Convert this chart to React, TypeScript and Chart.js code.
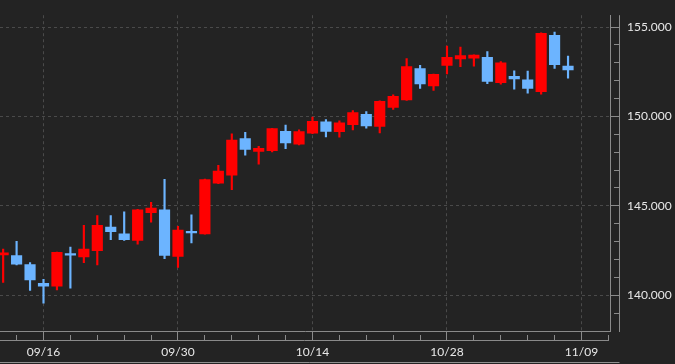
import React, { useEffect, useRef } from 'react';
import { Chart, registerables } from 'chart.js';

Chart.register(...registerables);

// ---- data ----
const dates = [
  '09/11', '09/12', '09/13', '09/16', '09/17', '09/18', '09/19', '09/20', '09/23', '09/24',
  '09/25', '09/26', '09/27', '09/30', '10/01', '10/02', '10/03', '10/04', '10/07', '10/08',
  '10/09', '10/10', '10/11', '10/14', '10/15', '10/16', '10/17', '10/18', '10/21', '10/22',
  '10/23', '10/24', '10/25', '10/28', '10/29', '10/30', '10/31', '11/01', '11/04', '11/05',
  '11/06', '11/07', '11/08',
];
const openValues = [
  142.26, 142.22, 141.71, 140.67, 140.50, 142.33, 142.14, 142.49, 143.81, 143.43,
  143.06, 144.62, 144.77, 142.17, 143.58, 143.43, 146.26, 146.71, 148.76, 148.04,
  148.08, 149.16, 148.45, 149.06, 149.70, 149.15, 149.54, 150.11, 149.44, 150.50,
  150.92, 152.67, 151.71, 152.85, 153.22, 153.26, 153.31, 151.89, 152.24, 152.05,
  151.39, 154.54, 152.81,
];
const highValues = [
  142.58, 143.02, 141.83, 140.89, 142.42, 142.69, 143.91, 144.45, 144.45, 144.66,
  144.80, 145.20, 146.48, 143.86, 144.49, 146.49, 147.26, 149.02, 149.11, 148.33,
  149.34, 149.52, 149.25, 149.96, 149.82, 149.75, 150.32, 150.27, 150.87, 151.21,
  153.24, 152.85, 152.37, 153.94, 153.88, 153.45, 153.62, 153.06, 152.55, 152.53,
  154.67, 154.71, 153.38,
];
const lowValues = [
  140.71, 141.69, 140.27, 139.55, 140.30, 140.39, 141.82, 141.69, 143.11, 143.06,
  142.85, 144.09, 142.05, 141.56, 142.92, 143.41, 146.24, 145.91, 147.83, 147.33,
  148.01, 148.19, 148.40, 149.04, 148.86, 148.84, 149.25, 149.34, 149.08, 150.39,
  150.90, 151.56, 151.46, 152.37, 152.78, 152.81, 151.83, 151.80, 151.53, 151.30,
  151.24, 152.69, 152.14,
];
const closeValues = [
  142.37, 141.74, 140.85, 140.51, 142.40, 142.24, 142.58, 143.91, 143.56, 143.11,
  144.77, 144.88, 142.22, 143.65, 143.49, 146.47, 146.94, 148.67, 148.15, 148.22,
  149.32, 148.52, 149.15, 149.73, 149.16, 149.64, 150.21, 149.47, 150.85, 151.12,
  152.78, 151.82, 152.35, 153.31, 153.40, 153.43, 151.96, 152.99, 152.10, 151.56,
  154.65, 152.90, 152.60,
];
const xTickLabels = ['09/16', '09/30', '10/14', '10/28', '11/09'];
const xTickIndices = [3, 13, 23, 33, 43];
const yTickLabels = ['140.000', '145.000', '150.000', '155.000'];
const yTickValues = [140, 145, 150, 155];

// ---- styles ----
const BG = '#232323';
const AXIS = '#8a8a8a';
const GRID = '#4a4a4a';
const TEXT = '#e8e8e8';
const UP = '#ff0000';
const DOWN = '#6cb4ff';
const TICK_LEN = 9;

const X_MIN = -0.234;
const X_MAX = 45.12;
const Y_MIN = 138;
const Y_MAX = 155.66;

const framePlugin = {
  id: 'frame',
  beforeDraw(chart: any) {
    const { ctx, width, height } = chart;
    ctx.save();
    ctx.fillStyle = BG;
    ctx.fillRect(0, 0, width, height);
    ctx.restore();
  },
  afterDraw(chart: any) {
    const { ctx, chartArea } = chart;
    const xs = chart.scales.x;
    ctx.save();
    ctx.strokeStyle = AXIS;
    ctx.lineWidth = 1;
    ctx.setLineDash([]);
    // lower x axis line
    const yLow = Math.round(chartArea.bottom + TICK_LEN) + 0.5;
    ctx.beginPath();
    ctx.moveTo(chartArea.left, yLow);
    ctx.lineTo(Math.round(xs.getPixelForValue(45)) + 1, yLow);
    ctx.stroke();
    // outer y axis line
    const xAx = Math.round(chartArea.right + TICK_LEN) + 0.5;
    ctx.beginPath();
    ctx.moveTo(xAx, chartArea.top);
    ctx.lineTo(xAx, Math.round(chartArea.bottom) + 1);
    ctx.stroke();
    // bottom frame line
    ctx.strokeStyle = '#8f8f8f';
    ctx.beginPath();
    ctx.moveTo(0, 362.5);
    ctx.lineTo(xAx, 362.5);
    ctx.stroke();
    ctx.restore();
  },
};

export default function App() {
  const ref = useRef<HTMLCanvasElement | null>(null);

  useEffect(() => {
    if (!ref.current) return;
    const colors = openValues.map((o, i) => (closeValues[i] >= o ? UP : DOWN));
    const xLabelMap: Record<number, string> = {};
    xTickIndices.forEach((v, i) => (xLabelMap[v] = xTickLabels[i]));
    const yLabelMap: Record<number, string> = {};
    yTickValues.forEach((v, i) => (yLabelMap[v] = yTickLabels[i]));
    const xTicks: number[] = [];
    for (let v = 1; v <= 45; v += 2) xTicks.push(v);
    const yTicks: number[] = [];
    for (let v = 139; v <= 155; v += 1) yTicks.push(v);
    const minorDash = [0, 3, 6, 20];

    const chart = new Chart(ref.current, {
      type: 'bar',
      data: {
        labels: dates,
        datasets: [
          {
            label: 'body',
            data: dates.map((_, i) => ({ x: i, y: [openValues[i], closeValues[i]] })) as any,
            backgroundColor: colors,
            barThickness: 10.5,
            grouped: false,
            borderWidth: 0,
          },
          {
            label: 'wick',
            data: dates.map((_, i) => ({ x: i, y: [lowValues[i], highValues[i]] })) as any,
            backgroundColor: colors,
            barThickness: 1.5,
            grouped: false,
            borderWidth: 0,
          },
        ],
      },
      options: {
        responsive: false,
        maintainAspectRatio: false,
        devicePixelRatio: 1,
        animation: false,
        layout: { padding: 0 },
        font: { family: 'Lato', size: 12 },
        plugins: {
          legend: { display: false },
          tooltip: { enabled: false },
          title: { display: false },
        },
        scales: {
          x: {
            type: 'linear',
            position: 'bottom',
            min: X_MIN,
            max: X_MAX,
            offset: false,
            afterBuildTicks: (scale: any) => {
              scale.ticks = xTicks.map((v) => ({ value: v }));
            },
            afterFit: (scale: any) => {
              scale.height = 33;
            },
            grid: {
              offset: false,
              drawOnChartArea: true,
              drawTicks: true,
              tickLength: TICK_LEN,
              lineWidth: 1,
              tickWidth: 1,
              color: (c: any) => (c.tick && xLabelMap[c.tick.value] ? GRID : 'transparent'),
              tickColor: AXIS,
              tickBorderDash: (c: any) => (c.tick && xLabelMap[c.tick.value] ? [] : minorDash),
            },
            border: { display: true, color: AXIS, width: 1, dash: [3, 3] },
            ticks: {
              autoSkip: false,
              maxRotation: 0,
              minRotation: 0,
              padding: 5,
              color: TEXT,
              font: { family: 'Lato', size: 12 },
              callback: (v: any) => xLabelMap[v] || '',
            },
          },
          y: {
            type: 'linear',
            position: 'right',
            min: Y_MIN,
            max: Y_MAX,
            afterBuildTicks: (scale: any) => {
              scale.ticks = yTicks.map((v) => ({ value: v }));
            },
            afterFit: (scale: any) => {
              scale.width = 65;
            },
            grid: {
              drawOnChartArea: true,
              drawTicks: true,
              tickLength: TICK_LEN,
              lineWidth: 1,
              tickWidth: 1,
              color: (c: any) => (c.tick && yLabelMap[c.tick.value] ? GRID : 'transparent'),
              tickColor: AXIS,
              tickBorderDash: (c: any) => (c.tick && yLabelMap[c.tick.value] ? [] : minorDash),
            },
            border: { display: true, color: AXIS, width: 1, dash: [3, 3] },
            ticks: {
              autoSkip: false,
              padding: 8,
              color: TEXT,
              font: { family: 'Lato', size: 12 },
              callback: (v: any) => yLabelMap[v] || '',
            },
          },
        },
      } as any,
      plugins: [framePlugin],
    });
    return () => chart.destroy();
  }, []);

  return (
    <div style={{ position: 'fixed', left: 0, top: 0, width: 675, height: 364, background: BG }}>
      <canvas ref={ref} width={675} height={364} style={{ display: 'block', width: 675, height: 364 }} />
    </div>
  );
}
